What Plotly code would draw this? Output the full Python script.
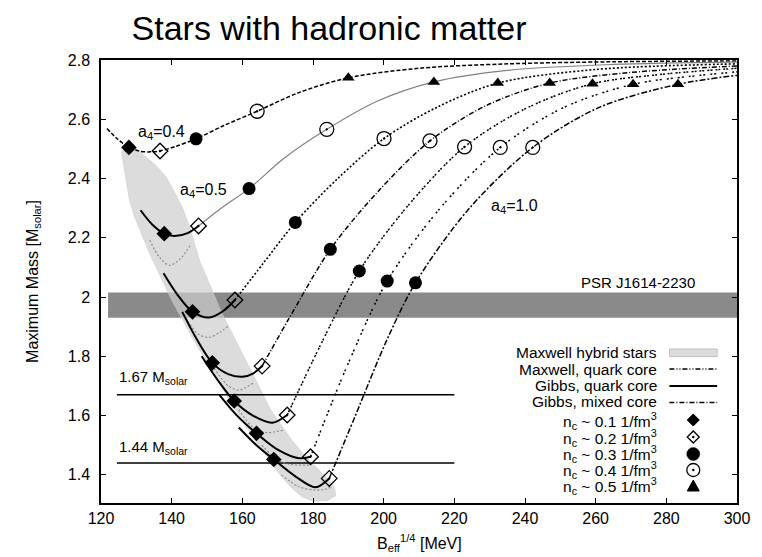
import plotly.graph_objects as go

FONT = "Liberation Sans, Arial, sans-serif"

# ---------------- data ----------------
a4_values = [0.4, 0.5, 0.6, 0.7, 0.8, 0.9, 1.0]

# upper (hadronic -> mixed) branches, one per a4
upper_x = [
    [121.7, 124.5, 127.9, 131.0, 134.0, 136.7, 141.0, 146.9, 155.0, 164.2, 176.0, 190.0, 210.0, 235.0, 265.0, 300.0],
    [147.6, 154.0, 161.9, 172.0, 183.9, 198.0, 214.2, 235.0, 265.0, 300.0],
    [157.9, 166.0, 175.0, 187.0, 200.1, 215.0, 232.3, 260.0, 300.0],
    [165.6, 175.0, 184.9, 198.0, 213.1, 229.0, 247.0, 270.0, 300.0],
    [172.7, 182.0, 193.1, 207.0, 222.9, 240.0, 259.1, 280.0, 300.0],
    [179.3, 190.0, 201.0, 216.0, 233.0, 251.0, 270.6, 287.0, 300.0],
    [184.6, 192.0, 200.9, 209.0, 224.0, 242.2, 261.0, 283.3, 300.0],
]
upper_y = [
    [2.569, 2.535, 2.505, 2.492, 2.490, 2.493, 2.508, 2.534, 2.580, 2.627, 2.690, 2.740, 2.772, 2.787, 2.794, 2.797],
    [2.240, 2.300, 2.366, 2.470, 2.566, 2.660, 2.726, 2.765, 2.785, 2.793],
    [1.990, 2.115, 2.252, 2.400, 2.535, 2.640, 2.722, 2.768, 2.787],
    [1.767, 1.965, 2.161, 2.351, 2.527, 2.646, 2.722, 2.758, 2.780],
    [1.602, 1.835, 2.088, 2.310, 2.507, 2.635, 2.720, 2.753, 2.772],
    [1.461, 1.777, 2.054, 2.300, 2.505, 2.640, 2.718, 2.745, 2.760],
    [1.388, 1.600, 1.855, 2.048, 2.296, 2.505, 2.640, 2.718, 2.748],
]

# Gibbs, quark core branches (solid), for a4 = 0.5 ... 1.0
gibbs_x = [
    [131.2, 134.5, 137.9, 140.8, 144.5, 147.6],
    [137.7, 141.5, 145.9, 150.6, 154.5, 157.9],
    [143.0, 147.0, 151.5, 156.0, 160.0, 163.0, 165.6],
    [148.5, 153.0, 157.7, 163.0, 168.5, 172.7],
    [153.5, 158.5, 164.0, 170.0, 176.0, 179.3],
    [159.0, 164.0, 168.9, 175.0, 180.7, 184.6],
]
gibbs_y = [
    [2.293, 2.245, 2.214, 2.206, 2.216, 2.240],
    [2.080, 2.010, 1.950, 1.931, 1.952, 1.990],
    [1.950, 1.860, 1.778, 1.740, 1.731, 1.742, 1.767],
    [1.800, 1.720, 1.649, 1.600, 1.576, 1.602],
    [1.670, 1.600, 1.540, 1.485, 1.456, 1.461],
    [1.560, 1.500, 1.452, 1.395, 1.358, 1.388],
]

# Maxwell, quark core branches (thin grey)
maxwell_x = [
    [133.8, 136.5, 139.4, 142.5, 145.5],
    [144.0, 147.5, 150.6, 153.5, 156.3],
    [152.0, 156.0, 159.0, 161.0, 163.0],
    [159.0, 163.0, 166.6, 169.0, 171.7],
    [165.5, 170.0, 173.2, 176.0, 178.8],
    [171.0, 176.0, 180.3, 183.0, 185.5],
]
maxwell_y = [
    [2.192, 2.135, 2.107, 2.130, 2.180],
    [1.930, 1.875, 1.864, 1.880, 1.905],
    [1.760, 1.700, 1.686, 1.695, 1.709],
    [1.620, 1.560, 1.543, 1.545, 1.551],
    [1.500, 1.450, 1.436, 1.433, 1.433],
    [1.400, 1.360, 1.349, 1.350, 1.360],
]

# Maxwell hybrid stars region (boundary)
region_x = [125.8, 126.3, 127.0, 128.0, 129.5, 131.5, 134.0, 137.0, 140.0, 146.0, 152.5, 158.0, 164.0, 170.0,
            174.0, 177.0, 180.0,
            184.0, 186.5, 186.0, 183.0, 178.0, 174.0, 168.0, 163.8, 159.0, 154.0, 150.5, 148.0, 146.5, 145.0,
            143.1, 141.0, 138.4, 135.5, 133.0, 130.0, 127.5]
region_y = [2.490, 2.450, 2.400, 2.330, 2.270, 2.210, 2.140, 2.065, 1.990, 1.860, 1.730, 1.620, 1.510, 1.410,
            1.355, 1.325, 1.312,
            1.313, 1.330, 1.360, 1.400, 1.460, 1.517, 1.620, 1.720, 1.830, 1.950, 2.050, 2.120, 2.180, 2.240,
            2.300, 2.350, 2.405, 2.445, 2.470, 2.500, 2.510]

# central densities markers
nc01_x = [127.9, 137.9, 145.9, 151.5, 157.7, 164.0, 168.9]
nc01_y = [2.505, 2.214, 1.950, 1.778, 1.649, 1.540, 1.452]
nc02_x = [136.7, 147.6, 157.9, 165.6, 172.7, 179.3, 184.6]
nc02_y = [2.493, 2.240, 1.990, 1.767, 1.602, 1.461, 1.388]
nc03_x = [146.9, 161.9, 175.0, 184.9, 193.1, 201.0, 209.0]
nc03_y = [2.534, 2.366, 2.252, 2.161, 2.088, 2.054, 2.048]
nc04_x = [164.2, 183.9, 200.1, 213.1, 222.9, 233.0, 242.2]
nc04_y = [2.627, 2.566, 2.535, 2.527, 2.507, 2.505, 2.505]
nc05_x = [190.0, 214.2, 232.3, 247.0, 259.1, 270.6, 283.3]
nc05_y = [2.740, 2.726, 2.722, 2.722, 2.720, 2.718, 2.718]

# PSR J1614-2230 band and reference masses
psr_x = [122.0, 300.0]
psr_low, psr_high = 1.93, 2.015
ref_masses = [1.67, 1.44]
ref_x = [124.5, 220.0]

x_ticks = [120, 140, 160, 180, 200, 220, 240, 260, 280, 300]
y_ticks = [1.4, 1.6, 1.8, 2.0, 2.2, 2.4, 2.6, 2.8]

# ---------------- styles ----------------
upper_styles = [
    dict(color="black", width=1.5, dash="4px,2px"),
    dict(color="#808080", width=1.2, dash="solid"),
    dict(color="black", width=1.6, dash="2px,2px"),
    dict(color="black", width=1.5, dash="5px,2px,1px,2px"),
    dict(color="black", width=1.5, dash="2px,1px,2px,3px"),
    dict(color="black", width=1.5, dash="2px,2px,2px,5px"),
    dict(color="black", width=1.5, dash="6px,2px,2px,2px"),
]

fig = go.Figure()

# PSR band
fig.add_trace(go.Scatter(x=psr_x + psr_x[::-1], y=[psr_high, psr_high, psr_low, psr_low],
                         fill="toself", fillcolor="#8a8a8a", line=dict(width=0),
                         mode="lines", hoverinfo="skip", showlegend=False))
# Maxwell hybrid region
fig.add_trace(go.Scatter(x=region_x + region_x[:1], y=region_y + region_y[:1], fill="toself",
                         fillcolor="rgba(205,205,205,0.7)", line=dict(width=0.6, color="#cccccc"),
                         mode="lines", hoverinfo="skip", showlegend=False))

# reference mass lines
for m in ref_masses:
    fig.add_trace(go.Scatter(x=ref_x, y=[m, m], mode="lines", line=dict(color="black", width=1.5),
                             showlegend=False, hoverinfo="skip"))

# Maxwell quark core curves
for xs, ys in zip(maxwell_x, maxwell_y):
    fig.add_trace(go.Scatter(x=xs, y=ys, mode="lines",
                             line=dict(color="#8c8c8c", width=1.2, dash="2px,2px", shape="spline", smoothing=0.9),
                             showlegend=False, hoverinfo="skip"))

# upper branches
for xs, ys, st in zip(upper_x, upper_y, upper_styles):
    fig.add_trace(go.Scatter(x=xs, y=ys, mode="lines",
                             line=dict(shape="spline", smoothing=0.9, **st),
                             showlegend=False, hoverinfo="skip"))

# Gibbs quark core curves
for xs, ys in zip(gibbs_x, gibbs_y):
    fig.add_trace(go.Scatter(x=xs, y=ys, mode="lines",
                             line=dict(color="black", width=2, shape="spline", smoothing=0.9),
                             showlegend=False, hoverinfo="skip"))

# markers
fig.add_trace(go.Scatter(x=nc01_x, y=nc01_y, mode="markers", showlegend=False,
                         marker=dict(symbol="diamond", size=12, color="black")))
fig.add_trace(go.Scatter(x=nc02_x, y=nc02_y, mode="markers", showlegend=False,
                         marker=dict(symbol="diamond-open-dot", size=12, color="black", line=dict(width=1.3, color="black"))))
fig.add_trace(go.Scatter(x=nc03_x, y=nc03_y, mode="markers", showlegend=False,
                         marker=dict(symbol="circle", size=13, color="black")))
fig.add_trace(go.Scatter(x=nc04_x, y=nc04_y, mode="markers", showlegend=False,
                         marker=dict(symbol="circle-open-dot", size=14, color="black", line=dict(width=1.3, color="black"))))
fig.add_trace(go.Scatter(x=nc05_x, y=nc05_y, mode="markers", showlegend=False,
                         marker=dict(symbol="triangle-up", size=11, color="black")))

# ---------------- layout ----------------
L, R, T, B = 101, 21, 60, 54
W, H = 762, 557
PW, PH = W - L - R, H - T - B


def px_x(px):
    return (px - L) / PW


def px_y(py):
    return (H - B - py) / PH


annotations = []


def add_text(text, x, y, xref="x", yref="y", xanchor="center", yanchor="middle", size=16, angle=0):
    annotations.append(dict(text=text, x=x, y=y, xref=xref, yref=yref, xanchor=xanchor, yanchor=yanchor,
                            showarrow=False, textangle=angle, font=dict(family=FONT, size=size, color="black")))


add_text("a<sub>4</sub>=0.4", 137.0, 2.557)
add_text("a<sub>4</sub>=0.5", 149.0, 2.36)
add_text("a<sub>4</sub>=1.0", 237.0, 2.304)
add_text("PSR J1614-2230", 288.6, 2.05, xanchor="right", size=15)
add_text("1.67 M<sub>solar</sub>", 124.6, 1.728, xanchor="left", size=15)
add_text("1.44 M<sub>solar</sub>", 124.6, 1.492, xanchor="left", size=15)

# axis titles
add_text("Maximum Mass [M<sub>solar</sub>]", px_x(33), 0.5, xref="paper", yref="paper", size=16, angle=-90)
add_text("B<sub>eff</sub><sup>1/4</sup> [MeV]", 0.5, px_y(543), xref="paper", yref="paper", size=16)

# custom legend (text right-aligned, sample on the right)
legend_labels = ["Maxwell hybrid stars", "Maxwell, quark core", "Gibbs, quark core", "Gibbs, mixed core",
                 "n<sub>c</sub> ~ 0.1 1/fm<sup>3</sup>", "n<sub>c</sub> ~ 0.2 1/fm<sup>3</sup>",
                 "n<sub>c</sub> ~ 0.3 1/fm<sup>3</sup>", "n<sub>c</sub> ~ 0.4 1/fm<sup>3</sup>",
                 "n<sub>c</sub> ~ 0.5 1/fm<sup>3</sup>"]
legend_rows = [352, 369, 385.5, 401.5, 421, 437.5, 454, 470, 486]
for lab, ry in zip(legend_labels, legend_rows):
    add_text(lab, px_x(663), px_y(ry), xref="paper", yref="paper", xanchor="right", size=15.5)

shapes = []
sx0, sx1, sc = px_x(673), px_x(721), px_x(697)
shapes.append(dict(type="rect", xref="paper", yref="paper", x0=sx0, x1=sx1,
                   y0=px_y(356.5), y1=px_y(349), fillcolor="#dcdcdc", line=dict(color="#c0c0c0", width=1)))
for ry, dash, w in [(369, "5px,2px,1px,2px,1px,2px", 1.5), (386, "solid", 2), (402.5, "5px,2px,1px,2px", 1.5)]:
    shapes.append(dict(type="line", xref="paper", yref="paper", x0=sx0, x1=sx1, y0=px_y(ry), y1=px_y(ry),
                       line=dict(color="black", width=w, dash=dash)))


def pix_shape(kind, ry, **kw):
    d = dict(type=kind, xref="paper", yref="paper", xsizemode="pixel", ysizemode="pixel",
             xanchor=sc, yanchor=px_y(ry))
    d.update(kw)
    shapes.append(d)


sym_rows = [420, 437, 454, 470, 486]
pix_shape("path", sym_rows[0], path="M0,6 L6,0 L0,-6 L-6,0 Z", fillcolor="black", line=dict(color="black", width=1))
pix_shape("path", sym_rows[1], path="M0,6 L6,0 L0,-6 L-6,0 Z", fillcolor="white", line=dict(color="black", width=1.3))
pix_shape("circle", sym_rows[1], x0=-1.2, x1=1.2, y0=-1.2, y1=1.2, fillcolor="black", line=dict(width=0))
pix_shape("circle", sym_rows[2], x0=-6.5, x1=6.5, y0=-6.5, y1=6.5, fillcolor="black", line=dict(color="black", width=0.5))
pix_shape("circle", sym_rows[3], x0=-6.5, x1=6.5, y0=-6.5, y1=6.5, fillcolor="white", line=dict(color="black", width=1.3))
pix_shape("circle", sym_rows[3], x0=-1.2, x1=1.2, y0=-1.2, y1=1.2, fillcolor="black", line=dict(width=0))
pix_shape("path", sym_rows[4], path="M-6,-5 L6,-5 L0,6 Z", fillcolor="black", line=dict(color="black", width=1))

axis_common = dict(showgrid=False, zeroline=False, showline=True, linecolor="black", linewidth=1.5,
                   mirror="ticks", ticks="inside", ticklen=5, tickwidth=1.2, tickcolor="black",
                   tickfont=dict(family=FONT, size=16, color="black"))

fig.update_layout(
    width=W, height=H, autosize=False,
    margin=dict(l=L, r=R, t=T, b=B),
    paper_bgcolor="white", plot_bgcolor="white",
    title=dict(text="Stars with hadronic matter", x=329 / W, xref="container", xanchor="center",
               y=1 - 28 / H, yref="container", yanchor="middle",
               font=dict(family=FONT, size=34, color="black")),
    xaxis=dict(range=[120, 300], tickvals=x_ticks, **axis_common),
    yaxis=dict(range=[1.305, 2.8], tickvals=y_ticks, ticklabelstandoff=6, **axis_common),
    annotations=annotations,
    shapes=shapes,
    showlegend=False,
)

fig.write_html("out.html")
